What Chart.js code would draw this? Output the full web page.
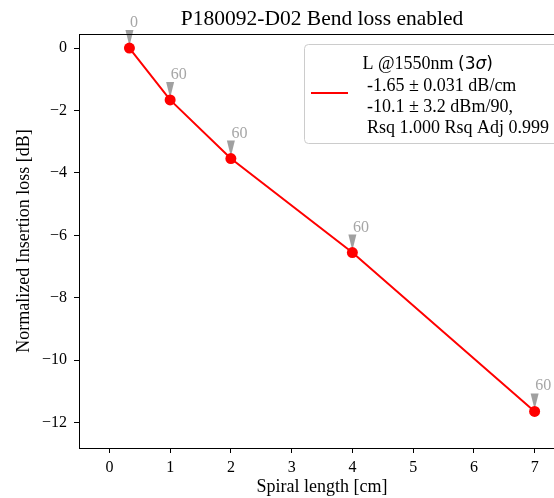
<!DOCTYPE html>
<html lang="en">
<head>
    <meta charset="UTF-8">
    <title>P180092-D02 Bend loss enabled</title>
    <style>
        body, html {
            margin: 0;
            padding: 0;
            background: #fff;
            overflow: hidden;
        }

        #wrap {
            width: 554px;
            height: 498px;
            overflow: hidden;
            position: relative;
        }
    </style>
</head>
<body>

<div id="wrap">
    <canvas id="lossChart" width="580" height="498"></canvas>
</div>

<script src="https://cdn.jsdelivr.net/npm/chart.js"></script>
<script>
    const spiralLength = [0.33, 1, 2, 4, 7];
    const insertionLoss = [0, -1.66, -3.54, -6.55, -11.64];
    const bendCounts = ['0', '60', '60', '60', '60'];
    const xTicks = [0, 1, 2, 3, 4, 5, 6, 7];
    const yTicks = [0, -2, -4, -6, -8, -10, -12];
    const chartTitle = 'P180092-D02 Bend loss enabled';
    const xLabel = 'Spiral length [cm]';
    const yLabel = 'Normalized Insertion loss [dB]';
    const legendLines = ['L @1550nm (3σ)', ' -1.65 ± 0.031 dB/cm', ' -10.1 ± 3.2 dBm/90,', ' Rsq 1.000 Rsq Adj 0.999'];

    const serif = '"Liberation Serif", "Times New Roman", serif';

    // title, top spine, gray wedge annotations and the legend box
    const extrasPlugin = {
        id: 'extras',
        beforeDatasetsDraw(chart) {
            const ctx = chart.ctx;
            const xs = chart.scales.x;
            const ys = chart.scales.y;
            ctx.save();
            for (let i = 0; i < spiralLength.length; i++) {
                const px = xs.getPixelForValue(spiralLength[i]);
                const py = ys.getPixelForValue(insertionLoss[i]);
                ctx.fillStyle = 'rgba(128,128,128,0.75)';
                ctx.beginPath();
                ctx.moveTo(px - 4, py - 18);
                ctx.lineTo(px + 4, py - 18);
                ctx.lineTo(px, py - 2);
                ctx.closePath();
                ctx.fill();
                ctx.fillStyle = '#a6a6a6';
                ctx.font = '16px ' + serif;
                ctx.textAlign = 'left';
                ctx.textBaseline = 'alphabetic';
                ctx.fillText(bendCounts[i], px + 0.5, py - 21);
            }
            ctx.restore();
        },
        afterDraw(chart) {
            const ctx = chart.ctx;
            const area = chart.chartArea;
            ctx.save();

            // top spine
            ctx.strokeStyle = '#000';
            ctx.lineWidth = 1;
            ctx.beginPath();
            ctx.moveTo(area.left, area.top + 0.5);
            ctx.lineTo(area.right, area.top + 0.5);
            ctx.moveTo(area.right - 0.5, area.top);
            ctx.lineTo(area.right - 0.5, area.bottom);
            ctx.stroke();

            // title
            ctx.fillStyle = '#000';
            ctx.font = '21.5px ' + serif;
            ctx.textAlign = 'center';
            ctx.textBaseline = 'alphabetic';
            ctx.fillText(chartTitle, (area.left + area.right) / 2, 24.5);

            // legend box
            const bx = 304.5, by = 44.5, bw = 260, bh = 99;
            ctx.fillStyle = 'rgba(255,255,255,0.8)';
            ctx.strokeStyle = '#cccccc';
            ctx.beginPath();
            ctx.roundRect(bx, by, bw, bh, 4);
            ctx.fill();
            ctx.stroke();

            ctx.strokeStyle = '#ff0000';
            ctx.lineWidth = 2;
            ctx.beginPath();
            ctx.moveTo(311, 93);
            ctx.lineTo(348, 93);
            ctx.stroke();

            const baselines = [69, 91, 112, 133];
            ctx.fillStyle = '#000';
            ctx.textAlign = 'left';
            legendLines.forEach((line, i) => {
                const tx = 362.5;
                const ty = baselines[i];
                const sig = line.indexOf('(3σ)');
                if (sig >= 0) {
                    // mathtext part drawn in DejaVu Sans like matplotlib
                    const head = line.slice(0, sig);
                    ctx.font = '18px ' + serif;
                    ctx.fillText(head, tx, ty);
                    let cx = tx + ctx.measureText(head).width;
                    ctx.font = '17px "DejaVu Sans"';
                    ctx.fillText('(3', cx, ty);
                    cx += ctx.measureText('(3').width;
                    ctx.font = 'italic 17px "DejaVu Sans"';
                    ctx.fillText('σ', cx, ty);
                    cx += ctx.measureText('σ').width;
                    ctx.font = '17px "DejaVu Sans"';
                    ctx.fillText(')', cx, ty);
                } else {
                    ctx.font = '18px ' + serif;
                    ctx.fillText(line, tx, ty);
                }
            });
            ctx.restore();
        }
    };

    function minusLabel(value) {
        return value < 0 ? '\u2212' + Math.abs(value) : String(value);
    }

    const ctx = document.getElementById('lossChart').getContext('2d');
    const lossChart = new Chart(ctx, {
        type: 'scatter',
        data: {
            datasets: [{
                label: 'L @1550nm',
                data: spiralLength.map((x, i) => ({ x: x, y: insertionLoss[i] })),
                showLine: true,
                borderColor: '#ff0000',
                borderWidth: 2,
                backgroundColor: '#ff0000',
                pointRadius: 5.5,
                pointHoverRadius: 5.5,
                pointBorderWidth: 0,
                clip: false
            }]
        },
        options: {
            responsive: false,
            animation: false,
            events: [],
            layout: {
                padding: { top: 34, right: 15, left: 0, bottom: 0 }
            },
            plugins: {
                legend: { display: false },
                tooltip: { enabled: false }
            },
            scales: {
                x: {
                    type: 'linear',
                    min: -0.5,
                    max: 7.5,
                    afterFit: scale => { scale.height = 50; },
                    afterBuildTicks: scale => { scale.ticks = xTicks.map(v => ({ value: v })); },
                    grid: {
                        display: true,
                        drawOnChartArea: false,
                        drawTicks: true,
                        tickLength: 5,
                        color: '#000'
                    },
                    border: { display: true, color: '#000', width: 1 },
                    ticks: {
                        color: '#000',
                        padding: 5,
                        maxRotation: 0,
                        font: { family: serif, size: 16 }
                    },
                    title: {
                        display: true,
                        text: xLabel,
                        color: '#000',
                        padding: { top: 0, bottom: 0 },
                        font: { family: serif, size: 18 }
                    }
                },
                y: {
                    type: 'linear',
                    min: -12.81,
                    max: 0.45,
                    afterFit: scale => { scale.width = 79; },
                    afterBuildTicks: scale => { scale.ticks = yTicks.map(v => ({ value: v })); },
                    grid: {
                        display: true,
                        drawOnChartArea: false,
                        drawTicks: true,
                        tickLength: 5,
                        color: '#000'
                    },
                    border: { display: true, color: '#000', width: 1 },
                    ticks: {
                        color: '#000',
                        padding: 7,
                        font: { family: serif, size: 16 },
                        callback: minusLabel
                    },
                    title: {
                        display: true,
                        text: yLabel,
                        color: '#000',
                        padding: { top: 13, bottom: 0 },
                        font: { family: serif, size: 18 }
                    }
                }
            }
        },
        plugins: [extrasPlugin]
    });
</script>

</body>
</html>
